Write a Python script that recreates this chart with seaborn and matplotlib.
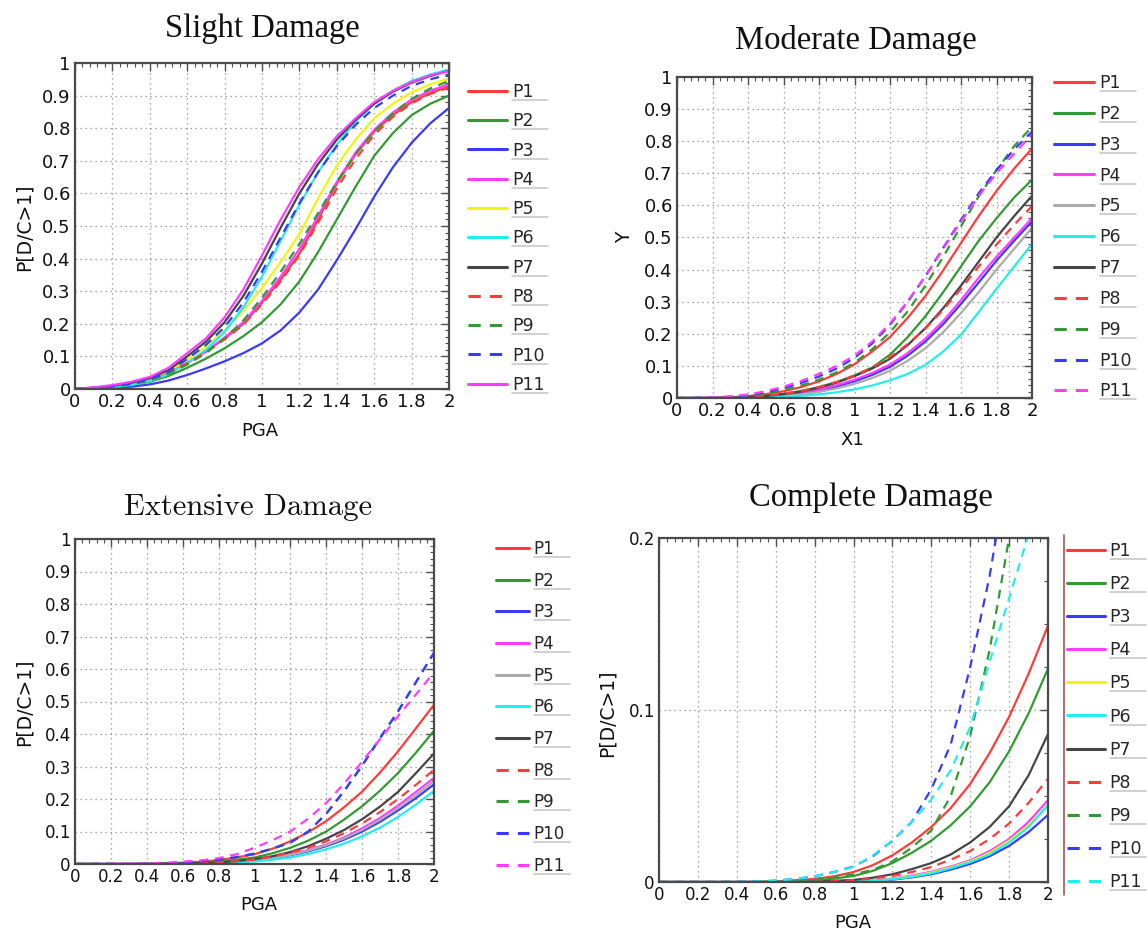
import matplotlib
matplotlib.use("Agg")
import matplotlib.pyplot as plt
import pandas as pd
import seaborn as sns
from matplotlib.ticker import MultipleLocator, AutoMinorLocator, FuncFormatter
from matplotlib.lines import Line2D

# ---------------- data ----------------
PGA = [0.0, 0.1, 0.2, 0.3, 0.4, 0.5, 0.6, 0.7, 0.8, 0.9, 1.0,
       1.1, 1.2, 1.3, 1.4, 1.5, 1.6, 1.7, 1.8, 1.9, 2.0]
SERIES = ["P1", "P2", "P3", "P4", "P5", "P6", "P7", "P8", "P9", "P10", "P11"]

# Slight damage
slight_P1 = [0, 0.003, 0.008, 0.016, 0.028, 0.05, 0.08, 0.115, 0.155, 0.2, 0.265, 0.335, 0.415, 0.52, 0.63, 0.72, 0.79, 0.84, 0.88, 0.908, 0.928]
slight_P2 = [0, 0.002, 0.006, 0.012, 0.022, 0.04, 0.065, 0.093, 0.125, 0.162, 0.205, 0.26, 0.33, 0.42, 0.52, 0.62, 0.715, 0.785, 0.84, 0.875, 0.90]
slight_P3 = [0, 0.001, 0.003, 0.007, 0.014, 0.026, 0.043, 0.063, 0.085, 0.11, 0.14, 0.18, 0.235, 0.305, 0.395, 0.49, 0.59, 0.68, 0.755, 0.815, 0.862]
slight_P4 = [0, 0.003, 0.008, 0.016, 0.029, 0.05, 0.08, 0.115, 0.158, 0.205, 0.27, 0.345, 0.43, 0.53, 0.635, 0.725, 0.795, 0.848, 0.888, 0.915, 0.935]
slight_P5 = [0, 0.004, 0.01, 0.018, 0.032, 0.055, 0.09, 0.13, 0.18, 0.24, 0.31, 0.39, 0.475, 0.585, 0.685, 0.765, 0.83, 0.875, 0.91, 0.935, 0.952]
slight_P6 = [0, 0.002, 0.006, 0.012, 0.024, 0.045, 0.08, 0.12, 0.175, 0.25, 0.345, 0.455, 0.565, 0.665, 0.75, 0.82, 0.875, 0.915, 0.945, 0.965, 0.98]
slight_P7 = [0, 0.004, 0.01, 0.019, 0.033, 0.058, 0.1, 0.145, 0.205, 0.285, 0.385, 0.495, 0.6, 0.69, 0.765, 0.825, 0.875, 0.912, 0.94, 0.96, 0.976]
slight_P8 = [0, 0.003, 0.008, 0.016, 0.028, 0.05, 0.079, 0.113, 0.152, 0.197, 0.26, 0.33, 0.41, 0.51, 0.615, 0.705, 0.78, 0.835, 0.876, 0.905, 0.925]
slight_P9 = [0, 0.003, 0.007, 0.014, 0.026, 0.046, 0.075, 0.11, 0.155, 0.21, 0.28, 0.36, 0.445, 0.54, 0.635, 0.72, 0.79, 0.845, 0.89, 0.922, 0.945]
slight_P10 = [0, 0.004, 0.009, 0.017, 0.03, 0.053, 0.092, 0.135, 0.19, 0.265, 0.36, 0.465, 0.57, 0.665, 0.745, 0.81, 0.862, 0.9, 0.93, 0.95, 0.965]
slight_P11 = [0, 0.005, 0.012, 0.022, 0.037, 0.065, 0.11, 0.155, 0.22, 0.305, 0.41, 0.52, 0.62, 0.705, 0.775, 0.83, 0.88, 0.915, 0.942, 0.962, 0.975]

# Moderate damage
moderate_P1 = [0, 0, 0.001, 0.002, 0.006, 0.012, 0.021, 0.034, 0.052, 0.075, 0.105, 0.145, 0.19, 0.25, 0.318, 0.398, 0.483, 0.567, 0.645, 0.715, 0.777]
moderate_P2 = [0, 0, 0, 0.001, 0.003, 0.007, 0.013, 0.022, 0.034, 0.05, 0.07, 0.095, 0.135, 0.19, 0.255, 0.33, 0.41, 0.49, 0.56, 0.625, 0.68]
moderate_P3 = [0, 0, 0, 0, 0.002, 0.004, 0.008, 0.014, 0.023, 0.036, 0.052, 0.072, 0.097, 0.132, 0.176, 0.23, 0.293, 0.36, 0.428, 0.49, 0.55]
moderate_P4 = [0, 0, 0, 0.001, 0.002, 0.005, 0.009, 0.016, 0.026, 0.04, 0.057, 0.078, 0.104, 0.14, 0.185, 0.24, 0.305, 0.375, 0.44, 0.5, 0.56]
moderate_P5 = [0, 0, 0, 0, 0.001, 0.003, 0.006, 0.011, 0.019, 0.03, 0.044, 0.062, 0.085, 0.116, 0.155, 0.205, 0.265, 0.33, 0.4, 0.465, 0.53]
moderate_P6 = [0, 0, 0, 0, 0.001, 0.002, 0.004, 0.007, 0.011, 0.018, 0.027, 0.039, 0.055, 0.075, 0.103, 0.145, 0.197, 0.268, 0.34, 0.41, 0.48]
moderate_P7 = [0, 0, 0, 0.001, 0.003, 0.006, 0.012, 0.02, 0.032, 0.048, 0.068, 0.092, 0.122, 0.165, 0.218, 0.28, 0.35, 0.425, 0.5, 0.567, 0.63]
moderate_P8 = [0, 0, 0, 0.001, 0.003, 0.007, 0.013, 0.022, 0.034, 0.05, 0.07, 0.095, 0.127, 0.168, 0.217, 0.275, 0.34, 0.41, 0.478, 0.54, 0.598]
moderate_P9 = [0, 0, 0.001, 0.003, 0.007, 0.014, 0.025, 0.039, 0.057, 0.08, 0.11, 0.152, 0.205, 0.27, 0.35, 0.44, 0.535, 0.628, 0.71, 0.785, 0.845]
moderate_P10 = [0, 0, 0.001, 0.004, 0.009, 0.018, 0.031, 0.047, 0.067, 0.092, 0.125, 0.17, 0.228, 0.3, 0.38, 0.468, 0.555, 0.638, 0.71, 0.775, 0.83]
moderate_P11 = [0, 0, 0.002, 0.005, 0.011, 0.021, 0.035, 0.053, 0.075, 0.1, 0.132, 0.176, 0.232, 0.302, 0.38, 0.465, 0.55, 0.63, 0.7, 0.762, 0.82]

# Extensive damage
extensive_P1 = [0, 0, 0, 0, 0.001, 0.002, 0.004, 0.007, 0.012, 0.02, 0.03, 0.047, 0.07, 0.098, 0.132, 0.175, 0.223, 0.282, 0.347, 0.418, 0.49]
extensive_P2 = [0, 0, 0, 0, 0.001, 0.001, 0.003, 0.005, 0.008, 0.013, 0.02, 0.033, 0.05, 0.072, 0.1, 0.137, 0.178, 0.226, 0.28, 0.343, 0.41]
extensive_P3 = [0, 0, 0, 0, 0, 0, 0.001, 0.002, 0.004, 0.007, 0.011, 0.017, 0.027, 0.039, 0.055, 0.075, 0.1, 0.13, 0.165, 0.203, 0.245]
extensive_P4 = [0, 0, 0, 0, 0, 0, 0.001, 0.002, 0.004, 0.007, 0.012, 0.019, 0.03, 0.043, 0.06, 0.082, 0.11, 0.142, 0.18, 0.222, 0.265]
extensive_P5 = [0, 0, 0, 0, 0, 0, 0.001, 0.002, 0.004, 0.007, 0.011, 0.018, 0.028, 0.041, 0.058, 0.079, 0.105, 0.136, 0.172, 0.212, 0.255]
extensive_P6 = [0, 0, 0, 0, 0, 0, 0.001, 0.001, 0.002, 0.004, 0.008, 0.013, 0.02, 0.031, 0.045, 0.063, 0.085, 0.112, 0.145, 0.183, 0.225]
extensive_P7 = [0, 0, 0, 0, 0, 0.001, 0.002, 0.003, 0.005, 0.009, 0.015, 0.024, 0.037, 0.055, 0.078, 0.105, 0.138, 0.177, 0.222, 0.28, 0.34]
extensive_P8 = [0, 0, 0, 0, 0, 0.001, 0.002, 0.003, 0.005, 0.009, 0.014, 0.023, 0.035, 0.05, 0.07, 0.095, 0.125, 0.16, 0.2, 0.244, 0.29]
extensive_P9 = [0, 0, 0, 0, 0.001, 0.002, 0.004, 0.008, 0.013, 0.021, 0.032, 0.047, 0.066, 0.1, 0.155, 0.225, 0.303, 0.388, 0.47, 0.56, 0.65]
extensive_P10 = [0, 0, 0, 0, 0.001, 0.002, 0.004, 0.008, 0.013, 0.021, 0.032, 0.047, 0.066, 0.1, 0.155, 0.225, 0.303, 0.388, 0.47, 0.56, 0.65]
extensive_P11 = [0, 0, 0.001, 0.001, 0.002, 0.004, 0.007, 0.011, 0.018, 0.03, 0.05, 0.073, 0.1, 0.14, 0.188, 0.248, 0.315, 0.385, 0.455, 0.522, 0.59]

# Complete damage
complete_P1 = [0, 0, 0, 0, 0, 0.0001, 0.0004, 0.001, 0.0018, 0.0033, 0.0058, 0.0098, 0.0155, 0.023, 0.032, 0.043, 0.057, 0.075, 0.096, 0.121, 0.149]
complete_P2 = [0, 0, 0, 0, 0, 0, 0.0002, 0.0005, 0.001, 0.002, 0.0035, 0.0065, 0.011, 0.017, 0.024, 0.033, 0.044, 0.058, 0.076, 0.098, 0.124]
complete_P3 = [0, 0, 0, 0, 0, 0, 0, 0, 0, 0.0001, 0.0003, 0.0007, 0.0014, 0.0027, 0.0045, 0.0072, 0.0105, 0.015, 0.021, 0.029, 0.039]
complete_P4 = [0, 0, 0, 0, 0, 0, 0, 0, 0, 0.0002, 0.0005, 0.001, 0.002, 0.0037, 0.006, 0.009, 0.0126, 0.018, 0.025, 0.035, 0.0476]
complete_P5 = [0, 0, 0, 0, 0, 0, 0, 0, 0, 0.0001, 0.0004, 0.0009, 0.0018, 0.0033, 0.0055, 0.0085, 0.012, 0.017, 0.024, 0.033, 0.045]
complete_P6 = [0, 0, 0, 0, 0, 0, 0, 0, 0, 0.0001, 0.0004, 0.0009, 0.0017, 0.003, 0.005, 0.008, 0.0115, 0.016, 0.023, 0.032, 0.0447]
complete_P7 = [0, 0, 0, 0, 0, 0, 0, 0, 0.0003, 0.0007, 0.0012, 0.0025, 0.0045, 0.0075, 0.011, 0.016, 0.023, 0.032, 0.044, 0.062, 0.086]
complete_P8 = [0, 0, 0, 0, 0, 0, 0, 0, 0.0002, 0.0005, 0.001, 0.002, 0.0035, 0.0058, 0.0087, 0.013, 0.018, 0.025, 0.034, 0.046, 0.06]
complete_P9 = [0, 0, 0, 0, 0, 0, 0.0002, 0.0005, 0.0012, 0.0025, 0.0045, 0.007, 0.012, 0.02, 0.03, 0.05, 0.085, 0.135, 0.2, 0.275, 0.36]
complete_P10 = [0, 0, 0, 0, 0.0001, 0.0003, 0.0008, 0.0017, 0.0033, 0.0058, 0.009, 0.015, 0.024, 0.035, 0.054, 0.08, 0.125, 0.178, 0.245, 0.32, 0.4]
complete_P11 = [0, 0, 0, 0, 0.0001, 0.0003, 0.0008, 0.0017, 0.0033, 0.0058, 0.0088, 0.0155, 0.024, 0.035, 0.048, 0.065, 0.09, 0.128, 0.165, 0.202, 0.245]

TITLES = ["Slight Damage", "Moderate Damage", "Extensive Damage", "Complete Damage"]
XLABELS = ["PGA", "X1", "PGA", "PGA"]
YLABELS = ["P[D/C>1]", "Y", "P[D/C>1]", "P[D/C>1]"]

# ---------------- styling ----------------
RED, GREEN, BLUE, MAG = "#ff3b3b", "#339a33", "#3a3aff", "#ff3cff"
YEL, CYAN, DARK, GREY = "#f4f40c", "#22eeee", "#454545", "#ababab"

STYLE_A = {  # slight
    "P1": (RED, False), "P2": (GREEN, False), "P3": (BLUE, False), "P4": (MAG, False),
    "P5": (YEL, False), "P6": (CYAN, False), "P7": (DARK, False), "P8": (RED, True),
    "P9": (GREEN, True), "P10": (BLUE, True), "P11": (MAG, False)}
STYLE_B = dict(STYLE_A, P5=(GREY, False), P11=(MAG, True))   # moderate / extensive
STYLE_C = dict(STYLE_A, P11=(CYAN, True))                     # complete
DASH = (4, 3)

sns.set_theme(style="white")
plt.rcParams["font.family"] = ["DejaVu Sans"]
plt.rcParams["axes.unicode_minus"] = False

W, H = 1147, 936
fig = plt.figure(figsize=(W / 100, H / 100), dpi=100)
fig.patch.set_facecolor("white")


def fx(px):
    return px / W


def fy(py):
    return 1 - py / H


panels = [
    dict(data={s: globals()["slight_" + s] for s in SERIES}, style=STYLE_A,
         box=(75, 63, 449, 389), ylim=1.0, ymaj=0.1, yminor=5,
         title=(262, 29, "Liberation Serif", 23.5), xl=(260, 431), yl=(24, 227), tick_fs=13,
         leg=dict(x=468, top=83, fs=12.5, hl=2.25, hp=0.3, ls=0.65)),
    dict(data={s: globals()["moderate_" + s] for s in SERIES}, style=STYLE_B,
         box=(677, 77, 1032, 398), ylim=1.0, ymaj=0.1, yminor=5,
         title=(856, 41, "Liberation Serif", 23.5), xl=(852, 440), yl=(625, 237), tick_fs=13,
         leg=dict(x=1054, top=74, fs=12.5, hl=2.3, hp=0.33, ls=0.74)),
    dict(data={s: globals()["extensive_" + s] for s in SERIES}, style=STYLE_B,
         box=(75, 539, 434, 864), ylim=1.0, ymaj=0.1, yminor=5,
         title=(248, 507, "cmr10", 22), xl=(259, 905), yl=(24, 702), tick_fs=12,
         leg=dict(x=496, top=540, fs=12, hl=2.0, hp=0.25, ls=0.82)),
    dict(data={s: globals()["complete_" + s] for s in SERIES}, style=STYLE_C,
         box=(659, 538, 1048, 882), ylim=0.2, ymaj=0.1, yminor=4,
         title=(871, 498, "Liberation Serif", 23.5), xl=(853, 923), yl=(607, 713), tick_fs=12,
         leg=dict(x=1067, top=542, fs=12.5, hl=2.2, hp=0.25, ls=0.87)),
]

fmt = FuncFormatter(lambda v, p: f"{v:g}")
legends = []

for i, p in enumerate(panels):
    x0, y0, x1, y1 = p["box"]
    ax = fig.add_axes([fx(x0), fy(y1), fx(x1) - fx(x0), (y1 - y0) / H])
    rows = []
    for s in SERIES:
        for xv, yv in zip(PGA, p["data"][s]):
            rows.append((xv, yv, s))
    df = pd.DataFrame(rows, columns=["PGA", "P", "series"])
    palette = {s: p["style"][s][0] for s in SERIES}
    dashes = {s: (DASH if p["style"][s][1] else "") for s in SERIES}
    sns.lineplot(data=df, x="PGA", y="P", hue="series", style="series",
                 hue_order=SERIES, style_order=SERIES, palette=palette, dashes=dashes,
                 estimator=None, sort=False, linewidth=1.6, legend=False, ax=ax)

    ax.set_xlim(0, 2)
    ax.set_ylim(0, p["ylim"])
    ax.xaxis.set_major_locator(MultipleLocator(0.2))
    ax.yaxis.set_major_locator(MultipleLocator(p["ymaj"]))
    ax.xaxis.set_minor_locator(AutoMinorLocator(5))
    ax.yaxis.set_minor_locator(AutoMinorLocator(p["yminor"]))
    ax.xaxis.set_major_formatter(fmt)
    ax.yaxis.set_major_formatter(fmt)
    ax.tick_params(which="both", direction="in", top=True, right=True,
                   color="#505050", labelcolor="#111111", labelsize=p["tick_fs"], pad=3)
    ax.tick_params(which="major", length=6, width=1.0)
    ax.tick_params(which="minor", length=3, width=0.8)
    ax.grid(True, which="major", linestyle=(0, (1, 3)), color="#8a8a8a", linewidth=0.9)
    for sp in ax.spines.values():
        sp.set_color("#4a4a4a")
        sp.set_linewidth(1.6)

    # labels
    ax.set_xlabel(XLABELS[i], fontsize=13, color="#111111")
    ax.xaxis.label.set_va("center")
    ax.xaxis.set_label_coords((p["xl"][0] - x0) / (x1 - x0), (y1 - p["xl"][1]) / (y1 - y0))
    ax.set_ylabel(YLABELS[i], fontsize=13.5, color="#111111")
    ax.yaxis.label.set_va("center")
    ax.yaxis.set_label_coords((p["yl"][0] - x0) / (x1 - x0), (y1 - p["yl"][1]) / (y1 - y0))
    tx, ty, tfam, tfs = p["title"]
    ax.set_title(TITLES[i], x=(tx - x0) / (x1 - x0), y=(y1 - ty) / (y1 - y0), pad=0,
                 va="center", ha="center", family=tfam, fontsize=tfs, color="#111111")

    # legend
    handles = [Line2D([], [], color=p["style"][s][0], linewidth=2.2,
                      linestyle=((0, DASH) if p["style"][s][1] else "-")) for s in SERIES]
    lg = p["leg"]
    leg = fig.legend(handles, SERIES, loc="upper left",
                     bbox_to_anchor=(fx(lg["x"]), fy(lg["top"])), bbox_transform=fig.transFigure,
                     frameon=False, borderpad=0, borderaxespad=0, fontsize=lg["fs"],
                     handlelength=lg["hl"], handletextpad=lg["hp"], labelspacing=lg["ls"])
    legends.append(leg)

# red separator line beside the "Complete Damage" legend
fig.add_artist(Line2D([fx(1064), fx(1064)], [fy(535), fy(895)], color="#b8504a", linewidth=1.2))

# thin grey underline below each legend label
fig.canvas.draw()
renderer = fig.canvas.get_renderer()
for leg in legends:
    for t in leg.get_texts():
        bb = t.get_window_extent(renderer)
        yy = (bb.y0 + 1) / H
        fig.add_artist(Line2D([bb.x0 / W, (bb.x0 + 36) / W], [yy, yy],
                              color="#c4c4c4", linewidth=1.1))

fig.savefig("out.png", dpi=100, facecolor="white")
